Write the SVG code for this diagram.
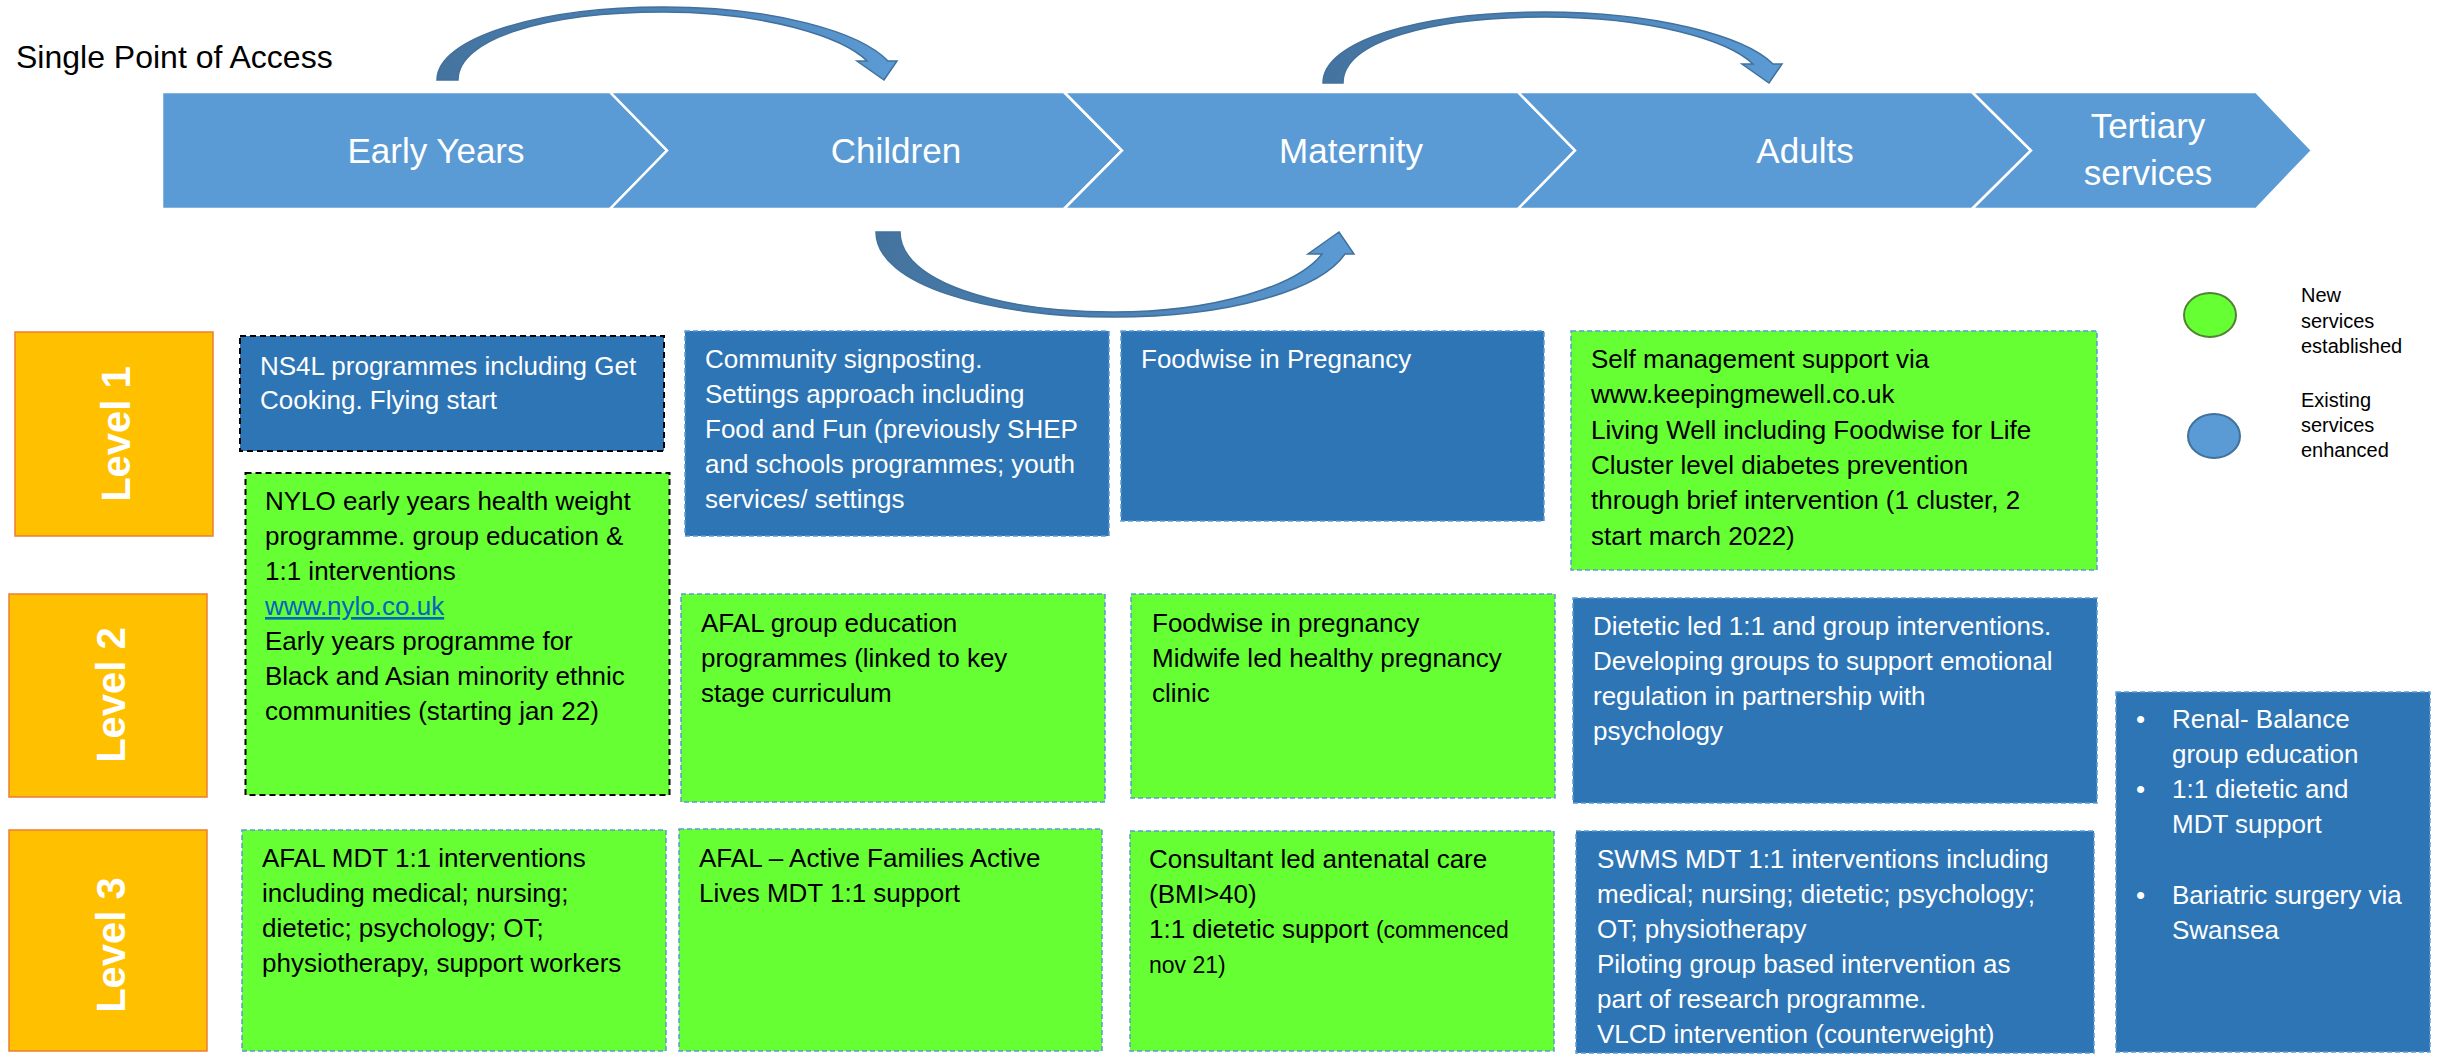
<svg xmlns="http://www.w3.org/2000/svg" width="2450" height="1055" viewBox="0 0 2450 1055">
<defs>
<style>
.chev{fill:#5B9BD5;stroke:#fff;stroke-width:2.5}
.chevt{font-family:"Liberation Sans",Arial,sans-serif;font-size:35px;fill:#fff;text-anchor:middle}
.lvl{fill:#FFC000;stroke:#ED7D31;stroke-width:1.5}
.lvlt{font-family:"Liberation Sans",Arial,sans-serif;font-weight:bold;font-size:40px;fill:#fff;text-anchor:middle}
.bb{fill:#2E75B6;stroke:#5B9BD5;stroke-width:1.5;stroke-dasharray:5 3}
.gb{fill:#66FF33;stroke:#5B9BD5;stroke-width:1.5;stroke-dasharray:5 3}
.blk{stroke:#000;stroke-width:2;stroke-dasharray:6 4}
.tw{font-family:"Liberation Sans",Arial,sans-serif;font-size:26px;fill:#fff}
.tb{font-family:"Liberation Sans",Arial,sans-serif;font-size:26px;fill:#000}
.sm{font-size:23px}
.lk{fill:#0563C1;text-decoration:underline}
.leg{font-family:"Liberation Sans",Arial,sans-serif;font-size:20px;fill:#000}
.arr{stroke:#41719C;stroke-width:1.5;stroke-linejoin:miter}
</style>
<linearGradient id="ga" x1="0" y1="0" x2="1" y2="0">
<stop offset="0" stop-color="#44739E"/>
<stop offset="0.55" stop-color="#4E84B8"/>
<stop offset="1" stop-color="#5B9BD5"/>
</linearGradient>
</defs>
<rect width="2450" height="1055" fill="#fff"/>

<text id="title" x="16" y="68" font-family="Liberation Sans, Arial, sans-serif" font-size="32" fill="#000">Single Point of Access</text>

<g id="stage-early-years">
<polygon class="chev" points="162,92 610,92 667,150.5 610,209 162,209"/>
<text class="chevt" x="436" y="163">Early Years</text>
</g>
<g id="stage-children">
<polygon class="chev" points="610,92 1064,92 1122,150.5 1064,209 610,209 667,150.5"/>
<text class="chevt" x="896" y="163">Children</text>
</g>
<g id="stage-maternity">
<polygon class="chev" points="1064,92 1518,92 1575,150.5 1518,209 1064,209 1122,150.5"/>
<text class="chevt" x="1351" y="163">Maternity</text>
</g>
<g id="stage-adults">
<polygon class="chev" points="1518,92 1972,92 2031,150.5 1972,209 1518,209 1575,150.5"/>
<text class="chevt" x="1805" y="163">Adults</text>
</g>
<g id="stage-tertiary">
<polygon class="chev" points="1972,92 2256,92 2312,150.5 2256,209 1972,209 2031,150.5"/>
<text class="chevt" x="2148" y="138">Tertiary</text>
<text class="chevt" x="2148" y="185">services</text>
</g>

<g id="connectors">
<path class="arr" fill="url(#ga)" d="M437,80 C437,38 540,7 663,7 C775,7 860,32 888,61 L897,61 L884,80 L857,61 L867,61 C843,37 765,12 663,12 C548,12 458,38 458,80 Z"/>
<path class="arr" fill="url(#ga)" d="M876,232 C876,285 990,317 1113,317 C1230,317 1320,290 1345,254 L1354,254 L1339,232 L1308,254 L1322,254 C1297,286 1215,312 1113,312 C1000,312 900,282 900,232 Z"/>
<path class="arr" fill="url(#ga)" d="M1323,83 C1323,41 1420,12 1545,12 C1655,12 1745,36 1773,64 L1782,64 L1769,83 L1742,64 L1753,64 C1728,40 1650,17 1545,17 C1432,17 1343,41 1343,83 Z"/>
</g>

<g id="level-1">
<rect class="lvl" x="15" y="332" width="198" height="204"/>
<text class="lvlt" transform="translate(130,434) rotate(-90)">Level 1</text>
</g>
<g id="level-2">
<rect class="lvl" x="9" y="594" width="198" height="203"/>
<text class="lvlt" transform="translate(125,695) rotate(-90)">Level 2</text>
</g>
<g id="level-3">
<rect class="lvl" x="9" y="830" width="198" height="221"/>
<text class="lvlt" transform="translate(125,945) rotate(-90)">Level 3</text>
</g>

<g id="ey-l1">
<rect class="bb blk" x="240" y="336" width="424" height="115"/>
<text class="tw"><tspan x="260" y="375">NS4L programmes including Get</tspan><tspan x="260" y="409">Cooking. Flying start</tspan></text>
</g>
<g id="ey-l2">
<rect class="gb blk" x="245.5" y="473" width="424" height="322"/>
<text class="tb"><tspan x="265" y="510">NYLO early years health weight</tspan><tspan x="265" y="545">programme. group education &amp;</tspan><tspan x="265" y="580">1:1 interventions</tspan><tspan x="265" y="615" class="lk">www.nylo.co.uk</tspan><tspan x="265" y="650">Early years programme for</tspan><tspan x="265" y="685">Black and Asian minority ethnic</tspan><tspan x="265" y="720">communities (starting jan 22)</tspan></text>
</g>
<g id="ey-l3">
<rect class="gb" x="242" y="830" width="424" height="221"/>
<text class="tb"><tspan x="262" y="867">AFAL MDT 1:1 interventions</tspan><tspan x="262" y="902">including medical; nursing;</tspan><tspan x="262" y="937">dietetic; psychology; OT;</tspan><tspan x="262" y="972">physiotherapy, support workers</tspan></text>
</g>

<g id="ch-l1">
<rect class="bb" x="685" y="331" width="424" height="205"/>
<text class="tw"><tspan x="705" y="368">Community signposting.</tspan><tspan x="705" y="403">Settings approach including</tspan><tspan x="705" y="438">Food and Fun (previously SHEP</tspan><tspan x="705" y="473">and schools programmes; youth</tspan><tspan x="705" y="508">services/ settings</tspan></text>
</g>
<g id="ch-l2">
<rect class="gb" x="681" y="594" width="424" height="208"/>
<text class="tb"><tspan x="701" y="632">AFAL group education</tspan><tspan x="701" y="667">programmes (linked to key</tspan><tspan x="701" y="702">stage curriculum</tspan></text>
</g>
<g id="ch-l3">
<rect class="gb" x="679" y="829" width="423" height="222"/>
<text class="tb"><tspan x="699" y="867">AFAL – Active Families Active</tspan><tspan x="699" y="902">Lives MDT 1:1 support</tspan></text>
</g>

<g id="ma-l1">
<rect class="bb" x="1121" y="331" width="423" height="190"/>
<text class="tw" x="1141" y="368">Foodwise in Pregnancy</text>
</g>
<g id="ma-l2">
<rect class="gb" x="1131" y="594" width="424" height="204"/>
<text class="tb"><tspan x="1152" y="632">Foodwise in pregnancy</tspan><tspan x="1152" y="667">Midwife led healthy pregnancy</tspan><tspan x="1152" y="702">clinic</tspan></text>
</g>
<g id="ma-l3">
<rect class="gb" x="1130" y="831" width="424" height="220"/>
<text class="tb"><tspan x="1149" y="868">Consultant led antenatal care</tspan><tspan x="1149" y="903">(BMI&gt;40)</tspan><tspan x="1149" y="938">1:1 dietetic support <tspan class="sm">(commenced</tspan></tspan><tspan x="1149" y="973" class="sm">nov 21)</tspan></text>
</g>

<g id="ad-l1">
<rect class="gb" x="1571" y="331" width="526" height="239"/>
<text class="tb"><tspan x="1591" y="368">Self management support via</tspan><tspan x="1591" y="403">www.keepingmewell.co.uk</tspan><tspan x="1591" y="439">Living Well including Foodwise for Life</tspan><tspan x="1591" y="474">Cluster level diabetes prevention</tspan><tspan x="1591" y="509">through brief intervention (1 cluster, 2</tspan><tspan x="1591" y="545">start march 2022)</tspan></text>
</g>
<g id="ad-l2">
<rect class="bb" x="1573" y="598" width="524" height="205"/>
<text class="tw"><tspan x="1593" y="635">Dietetic led 1:1 and group interventions.</tspan><tspan x="1593" y="670">Developing groups to support emotional</tspan><tspan x="1593" y="705">regulation in partnership with</tspan><tspan x="1593" y="740">psychology</tspan></text>
</g>
<g id="ad-l3">
<rect class="bb" x="1576" y="831" width="518" height="222"/>
<text class="tw"><tspan x="1597" y="868">SWMS MDT 1:1 interventions including</tspan><tspan x="1597" y="903">medical; nursing; dietetic; psychology;</tspan><tspan x="1597" y="938">OT; physiotherapy</tspan><tspan x="1597" y="973">Piloting group based intervention as</tspan><tspan x="1597" y="1008">part of research programme.</tspan><tspan x="1597" y="1043">VLCD intervention (counterweight)</tspan></text>
</g>

<g id="tertiary-box">
<rect class="bb" x="2116" y="692" width="314" height="360"/>
<text class="tw"><tspan x="2136" y="728">•</tspan><tspan x="2172" y="728">Renal- Balance</tspan><tspan x="2172" y="763">group education</tspan><tspan x="2136" y="798">•</tspan><tspan x="2172" y="798">1:1 dietetic and</tspan><tspan x="2172" y="833">MDT support</tspan><tspan x="2136" y="904">•</tspan><tspan x="2172" y="904">Bariatric surgery via</tspan><tspan x="2172" y="939">Swansea</tspan></text>
</g>

<g id="legend-new">
<ellipse cx="2210" cy="315" rx="26" ry="22" fill="#66FF33" stroke="#548235" stroke-width="2"/>
<text class="leg"><tspan x="2301" y="302">New</tspan><tspan x="2301" y="328">services</tspan><tspan x="2301" y="353">established</tspan></text>
</g>
<g id="legend-existing">
<ellipse cx="2214" cy="436" rx="26" ry="22" fill="#5B9BD5" stroke="#41719C" stroke-width="2"/>
<text class="leg"><tspan x="2301" y="407">Existing</tspan><tspan x="2301" y="432">services</tspan><tspan x="2301" y="457">enhanced</tspan></text>
</g>
</svg>
